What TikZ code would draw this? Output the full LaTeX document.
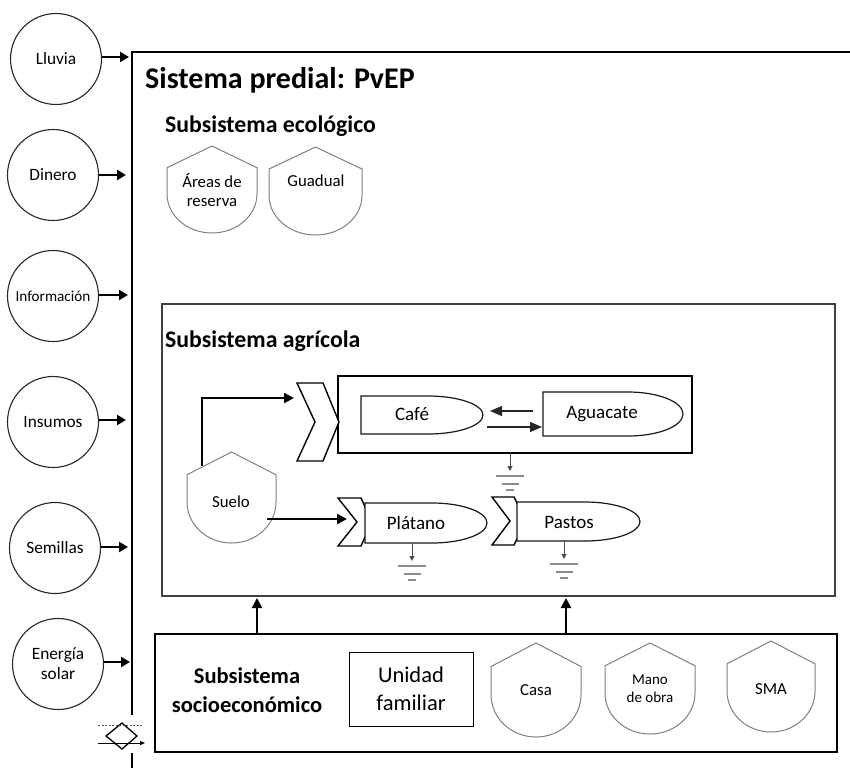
\documentclass[tikz,border=0pt]{standalone}
\usepackage{fontspec}
\setmainfont{Carlito}
\usetikzlibrary{arrows.meta,calc}
\newcommand{\shieldshape}[4]{%
  \draw[shieldline] (#1,{#2+0.25*#4}) -- ({#1+0.5*#3},#2) -- ({#1+#3},{#2+0.25*#4}) -- ({#1+#3},{#2+0.55*#4})
    arc[start angle=0,end angle=-180,x radius={0.5*#3*1pt},y radius={0.45*#4*1pt}] -- cycle;}
\newcommand{\tankshape}[4]{%
  \draw[tankline] (#1,#2) -- ({#3-55},#2)
    arc[start angle=90,end angle=-90,x radius=55pt,y radius={0.5*(#4-#2)*1pt}] -- (#1,#4) -- cycle;}
\newcommand{\chevshape}[6]{%
  \draw[chevline] (#1,#5) -- (#3,#5) -- (#4,{0.5*(#5+#6)}) -- (#3,#6) -- (#1,#6) -- (#2,{0.5*(#5+#6)}) -- cycle;}
\newcommand{\groundsym}[3]{%
  \coordinate (#1) at (#2,#3);
  \draw[groundstem] (#1) -- ++(0,18);
  \draw[groundbar, line width=1.8pt] ($(#1)+(-14,23)$) -- ++(28,0);
  \draw[groundbar] ($(#1)+(-8.5,31)$) -- ++(17,0);
  \draw[groundbar] ($(#1)+(-4,37)$) -- ++(8,0);}
\begin{document}
\begin{tikzpicture}[x=1pt,y=-1pt,
  inarrow/.style={line width=2.4pt, -{Triangle[length=9pt,width=10pt]}},
  thickarrow/.style={line width=2.4pt, -{Triangle[length=10pt,width=10pt]}},
  thinarrow/.style={line width=1.2pt, draw=black!85, -{Triangle[length=12pt,width=10pt]}},
  src/.style={circle, draw=black!85, line width=1.1pt, minimum size=91pt, inner sep=0pt, align=center,
    font=\fontsize{17.3}{20}\selectfont},
  shieldline/.style={draw=black!50, line width=1pt, fill=white},
  tankline/.style={draw=black!90, line width=1.2pt, fill=white},
  chevline/.style={draw=black, line width=1.4pt, fill=white},
  groundstem/.style={draw=black!70, line width=1pt, -{Triangle[length=5pt,width=5pt]}},
  groundbar/.style={draw=black!45, line width=1.3pt},
  lbl/.style={inner sep=0pt, align=center, font=\fontsize{16.8}{19.5}\selectfont},
  croplbl/.style={inner sep=0pt, font=\fontsize{19}{22}\selectfont},
  header/.style={inner sep=0pt, anchor=base west, font=\fontsize{23.8}{28}\selectfont\bfseries}
]
\useasboundingbox (0,0) rectangle (850,768);

% outer system boundary
\draw[line width=1.3pt] (132,715) -- (132,52) -- (850,52);
\draw[line width=1.3pt] (132,753) -- (132,768);
\node[inner sep=0pt, anchor=base west, font=\fontsize{30}{35}\selectfont\bfseries] (title) at (145,88) {Sistema predial: PvEP};

% sources
\node[src] (lluvia) at (56,59) {Lluvia};
\node[src] (dinero) at (53,175) {Dinero};
\node[src, font=\fontsize{15.2}{18}\selectfont] (info) at (53,296) {Información};
\node[src] (insumos) at (53,422) {Insumos};
\node[src] (semillas) at (55,548) {Semillas};
\node[src] (energia) at (58,664) {Energía\\solar};
\coordinate (e1) at (129,57);
\coordinate (e2) at (126,175);
\coordinate (e3) at (128,295);
\coordinate (e4) at (126,420);
\coordinate (e5) at (128,547);
\coordinate (e6) at (130,662);
\draw[inarrow] (lluvia.east |- e1) -- (e1);
\draw[inarrow] (dinero.east |- e2) -- (e2);
\draw[inarrow] (info.east |- e3) -- (e3);
\draw[inarrow] (insumos.east |- e4) -- (e4);
\draw[inarrow] (semillas.east |- e5) -- (e5);
\draw[inarrow] (energia.east |- e6) -- (e6);

% ecological subsystem
\node[header] (ecoh) at (165,132) {Subsistema ecológico};
\shieldshape{167}{146}{90}{87}
\node[lbl] (areas) at (212,190) {Áreas de\\reserva};
\shieldshape{269}{147}{93}{88}
\node[lbl] (guadual) at (316,181) {Guadual};

% agricultural subsystem
\draw[draw=black!75, line width=1.2pt] (162,304) rectangle (835,596);
\node[header] (agrih) at (165,347) {Subsistema agrícola};
\draw[line width=2.6pt] (338,376) rectangle (692,453);
\chevshape{297}{315}{323}{339}{383}{461}
\tankshape{361}{396}{483}{434}
\node[croplbl] (cafe) at (412,414) {Café};
\tankshape{543}{392}{683}{436}
\node[croplbl] (aguacate) at (602,414) {Aguacate};
\coordinate (a1) at (533,411);
\coordinate (a2) at (490,411);
\coordinate (b1) at (487,427);
\coordinate (b2) at (542,427);
\draw[thinarrow] (a1) -- (a2);
\draw[thinarrow] (b1) -- (b2);
\groundsym{g1}{510}{453}

\chevshape{338}{357}{361}{372}{498}{546}
\tankshape{365}{503}{487}{543}
\node[croplbl] (platano) at (416,523) {Plátano};
\groundsym{g2}{412}{543}
\chevshape{492}{510}{514}{526}{497}{545}
\tankshape{517}{502}{640}{541}
\node[croplbl] (pastos) at (569,522) {Pastos};
\groundsym{g3}{564}{541}

\shieldshape{187}{452}{89}{91}
\node[lbl] (suelo) at (231,502) {Suelo};
\coordinate (s1) at (202,466);
\coordinate (s2) at (294,398);
\coordinate (s3) at (267,519);
\coordinate (s4) at (347,519);
\draw[thickarrow] (s1) |- (s2);
\draw[thickarrow] (s3) -- (s4);

% socio-economic subsystem
\draw[line width=2.6pt] (155,634) rectangle (837,752);
\node[inner sep=0pt, align=center, font=\fontsize{22.5}{29}\selectfont\bfseries] (socioh) at (247,690) {Subsistema\\socioeconómico};
\node[draw, line width=1pt, minimum width=124pt, minimum height=74pt, inner sep=0pt, align=center,
  font=\fontsize{22.5}{28}\selectfont] (unidad) at (411,689) {Unidad\\familiar};
\shieldshape{491}{643}{90}{94}
\node[lbl] (casa) at (536,690) {Casa};
\shieldshape{605}{643}{90}{91}
\node[lbl, font=\fontsize{15}{18}\selectfont] (mano) at (650,689) {Mano\\de obra};
\shieldshape{727}{641}{88}{91}
\node[lbl] (sma) at (771,689) {SMA};
\coordinate (u1) at (257,634);
\coordinate (u2) at (257,598);
\coordinate (u3) at (566,634);
\coordinate (u4) at (566,598);
\draw[thickarrow] (u1) -- (u2);
\draw[thickarrow] (u3) -- (u4);

% interaction symbol at boundary
\coordinate (dia) at (122,736);
\draw[line width=1.3pt] (122,723) -- (137,736) -- (122,749) -- (106,736) -- cycle;
\draw[draw=black!70, line width=1pt, dash pattern=on 2pt off 1.5pt] (98,725) -- (142,725);
\draw[line width=1pt, -{Triangle[length=5pt,width=4pt]}] (98,743) -- (145,743);
\end{tikzpicture}
\end{document}
